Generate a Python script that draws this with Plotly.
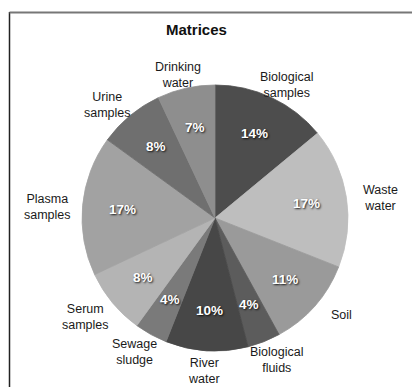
import math
import plotly.graph_objects as go

# Share of studies per sample matrix (percent), clockwise from 12 o'clock
matrices = ["Biological samples", "Waste water", "Soil", "Biological fluids",
            "River water", "Sewage sludge", "Serum samples", "Plasma samples",
            "Urine samples", "Drinking water"]
shares = [14, 17, 11, 4, 10, 4, 8, 17, 8, 7]
label_text = ["Biological<br>samples", "Waste<br>water", "Soil", "Biological<br>fluids",
              "River<br>water", "Sewage<br>sludge", "Serum<br>samples", "Plasma<br>samples",
              "Urine<br>samples", "Drinking<br>water"]
slice_colors = ["#4d4d4d", "#bebebe", "#9a9a9a", "#5c5c5c", "#474747",
                "#7a7a7a", "#b4b4b4", "#a2a2a2", "#6f6f6f", "#8e8e8e"]

W, H = 412, 387
CX, CY, R = 215, 218, 133          # pie centre and radius in pixels
LRX, LRY = 168, 134                # where category names sit around the pie
LINE_H = 16                        # approximate line height of the names
FONT = "Liberation Sans, Arial, Helvetica, sans-serif"

fig = go.Figure(go.Pie(
    labels=matrices,
    values=shares,
    sort=False,
    direction="clockwise",
    rotation=0,
    marker=dict(colors=slice_colors, line=dict(color=slice_colors, width=0.8)),
    textinfo="none",
    hoverinfo="label+percent",
    showlegend=False,
    domain=dict(x=[(CX - R) / W, (CX + R) / W],
                y=[1 - (CY + R) / H, 1 - (CY - R) / H]),
))

def to_paper(px, py):
    return px / W, 1 - py / H

total = sum(shares)
annotations = []
cum = 0.0
for name, txt, v in zip(matrices, label_text, shares):
    mid = (cum + v / 2) / total * 2 * math.pi
    cum += v
    s, c = math.sin(mid), math.cos(mid)
    # percentage inside the slice
    x, y = to_paper(CX + 0.70 * R * s, CY - 0.70 * R * c)
    annotations.append(dict(
        x=x, y=y, xref="paper", yref="paper", showarrow=False,
        text=f"{round(100 * v / total)}%",
        font=dict(family=FONT, size=13.5, color="white", weight="bold",
                  shadow="1px 1px 2px rgba(0,0,0,0.85)"),
        xanchor="center", yanchor="middle"))
    # category name outside the pie, pushed out by half its own height
    half_h = txt.count("<br>") * LINE_H / 2 + LINE_H / 2
    x, y = to_paper(CX + LRX * s, CY + 3 - (LRY + half_h) * c)
    annotations.append(dict(
        x=x, y=y, xref="paper", yref="paper", showarrow=False,
        text=txt, align="center",
        font=dict(family=FONT, size=12.5, color="#1a1a1a"),
        xanchor="center", yanchor="middle"))

annotations.append(dict(
    x=196 / W, y=1 - 29 / H, xref="paper", yref="paper", showarrow=False,
    text="Matrices", font=dict(family=FONT, size=15, color="#111", weight="bold"),
    xanchor="center", yanchor="middle"))

fig.update_layout(
    width=W, height=H, autosize=False,
    margin=dict(l=0, r=0, t=0, b=0),
    paper_bgcolor="white", plot_bgcolor="white",
    annotations=annotations,
    shapes=[
        dict(type="line", xref="paper", yref="paper",
             x0=9.5 / W, x1=9.5 / W, y0=0, y1=1 - 12 / H,
             line=dict(color="#222", width=1.5)),
        dict(type="line", xref="paper", yref="paper",
             x0=9.5 / W, x1=1, y0=1 - 12.5 / H, y1=1 - 12.5 / H,
             line=dict(color="#777", width=2)),
    ],
)

fig.write_html("out.html")
